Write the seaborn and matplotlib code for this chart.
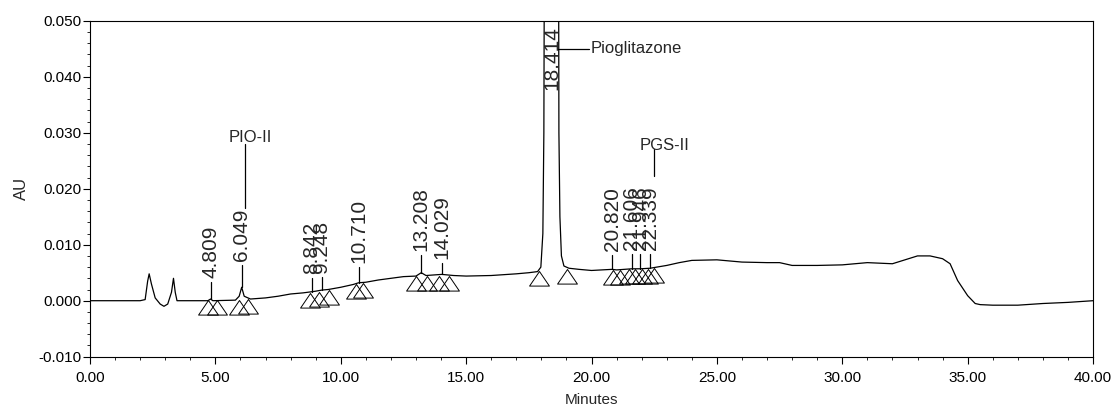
import numpy as np
import matplotlib
matplotlib.use('Agg')
import matplotlib.pyplot as plt
import matplotlib.ticker as mtick
from matplotlib.path import Path
import seaborn as sns

# chromatogram trace (minutes, AU)
trace_t = [0.0, 1.0, 2.0, 2.2, 2.3, 2.36, 2.45, 2.6, 2.8, 2.95, 3.1, 3.25, 3.33, 3.4, 3.47,
           4.0, 4.7, 4.81, 4.9, 5.8, 5.95, 6.05, 6.15, 6.4, 7.0, 7.5, 8.0, 8.5, 8.84, 9.0,
           9.25, 9.5, 10.0, 10.5, 10.71, 11.0, 11.5, 12.0, 12.5, 13.0, 13.21, 13.4, 14.03,
           14.5, 15.0, 16.0, 17.0, 17.5, 17.85, 17.98, 18.06, 18.1, 18.13, 18.68, 18.7,
           18.74, 18.8, 18.9, 19.1, 19.5, 20.0, 20.82, 21.0, 21.61, 21.95, 22.34, 22.6,
           23.0, 23.5, 24.0, 25.0, 26.0, 27.0, 27.5, 28.0, 29.0, 30.0, 31.0, 32.0, 32.5,
           33.0, 33.5, 34.0, 34.3, 34.6, 35.0, 35.3, 35.5, 36.0, 37.0, 38.0, 39.0, 40.0]
trace_au = [0.0, 0.0, 0.0, 0.0002, 0.0035, 0.0048, 0.0030, 0.0005, -0.0006, -0.0010, -0.0006,
            0.0015, 0.0040, 0.0015, 0.0, 0.0, 0.0, 0.0003, 0.0, 0.0001, 0.0008, 0.0024, 0.0008,
            0.0003, 0.0005, 0.0008, 0.0012, 0.0014, 0.0016, 0.0017, 0.0019, 0.0020, 0.0024,
            0.0029, 0.0032, 0.0033, 0.0037, 0.0040, 0.0043, 0.0044, 0.0050, 0.0045, 0.0047,
            0.0045, 0.0044, 0.0045, 0.0048, 0.0050, 0.0052, 0.0060, 0.0120, 0.0300, 0.0800,
            0.0800, 0.0300, 0.0150, 0.0080, 0.0062, 0.0058, 0.0056, 0.0054, 0.0056, 0.0055,
            0.0057, 0.0057, 0.0058, 0.0060, 0.0063, 0.0068, 0.0072, 0.0073, 0.0069, 0.0068,
            0.0068, 0.0063, 0.0063, 0.0064, 0.0068, 0.0066, 0.0073, 0.0080, 0.0080, 0.0075,
            0.0066, 0.0036, 0.0009, -0.0005, -0.0007, -0.0008, -0.0008, -0.0005, -0.0003, 0.0]

# integrated peaks: retention time label, apex height, label base height
peak_labels = ['4.809', '6.049', '8.842', '9.248', '10.710', '13.208', '14.029',
               '18.414', '20.820', '21.606', '21.946', '22.339']
peak_apex = [0.0003, 0.0024, 0.0016, 0.0019, 0.0032, 0.0050, 0.0047,
             None, 0.0056, 0.0057, 0.0057, 0.0058]
label_base = [0.0041, 0.0071, 0.0048, 0.0050, 0.0068, 0.0089, 0.0075,
              0.0377, 0.0089, 0.0091, 0.0091, 0.0091]

# start / end markers of integration (minutes, AU)
tri_t = [4.72, 5.05, 5.95, 6.32, 8.78, 9.12, 9.52, 10.6, 10.9, 13.0, 13.45, 13.9, 14.32,
         17.92, 19.03, 20.85, 21.15, 21.5, 21.75, 22.0, 22.25, 22.5]
tri_au = [0.0002, 0.0002, 0.0002, 0.0003, 0.0014, 0.0016, 0.0020, 0.0030, 0.0032,
          0.0044, 0.0045, 0.0045, 0.0045, 0.0053, 0.0056, 0.0055, 0.0055, 0.0056,
          0.0056, 0.0057, 0.0057, 0.0058]

# named compounds: (name, line x, line from, line to, text x, text y)
names = ['PIO-II', 'PGS-II']
name_x = [6.2, 22.5]
name_from = [0.0166, 0.0222]
name_to = [0.0279, 0.0271]
name_text_x = [6.4, 22.9]
name_text_y = [0.0291, 0.0277]

sns.set_style('ticks')
plt.rcParams['font.family'] = ['Liberation Sans', 'DejaVu Sans']
plt.rcParams['axes.unicode_minus'] = False

fig = plt.figure(figsize=(11.15, 4.07), dpi=100)
ax = fig.add_axes([0.0807, 0.1236, 0.8996, 0.8254])

sns.lineplot(x=trace_t, y=trace_au, ax=ax, color='black', linewidth=0.9, sort=False)

# hollow triangles with their apex on the baseline
tri = Path([(0, 0), (-0.68, -1), (0.68, -1), (0, 0)],
           [Path.MOVETO, Path.LINETO, Path.LINETO, Path.CLOSEPOLY])
ax.plot(tri_t, tri_au, linestyle='none', marker=tri, markersize=21,
        markerfacecolor='none', markeredgecolor='black', markeredgewidth=0.7)

for lbl, apex, base in zip(peak_labels, peak_apex, label_base):
    t = float(lbl)
    if apex is not None:
        ax.plot([t, t], [apex, base - 0.0008], color='black', linewidth=0.9)
    ax.text(t, base, lbl, rotation=90, ha='center', va='bottom', fontsize=15)

for nm, x, y0, y1, tx, ty in zip(names, name_x, name_from, name_to, name_text_x, name_text_y):
    ax.plot([x, x], [y0, y1], color='black', linewidth=0.9)
    ax.text(tx, ty, nm, ha='center', va='center', fontsize=12)

# main compound callout
ax.plot([18.66, 19.9], [0.045, 0.045], color='black', linewidth=0.9)
ax.text(19.95, 0.045, 'Pioglitazone', ha='left', va='center', fontsize=12)

ax.set_xlim(0, 40)
ax.set_ylim(-0.010, 0.050)
ax.xaxis.set_major_locator(mtick.MultipleLocator(5))
ax.xaxis.set_minor_locator(mtick.MultipleLocator(1))
ax.yaxis.set_major_locator(mtick.MultipleLocator(0.010))
ax.yaxis.set_minor_locator(mtick.MultipleLocator(0.002))
ax.xaxis.set_major_formatter(mtick.FormatStrFormatter('%.2f'))
ax.yaxis.set_major_formatter(mtick.FormatStrFormatter('%.3f'))
ax.tick_params(axis='both', which='major', direction='out', length=5, width=0.8,
               labelsize=11, color='black', labelcolor='black')
ax.tick_params(axis='x', which='major', pad=5)
ax.tick_params(axis='y', which='major', pad=1)
ax.tick_params(axis='both', which='minor', direction='out', length=2.5, width=0.7)
for s in ax.spines.values():
    s.set_visible(True)
    s.set_linewidth(0.8)
    s.set_color('black')

ax.set_xlabel('Minutes', fontsize=11, labelpad=6)
ax.set_ylabel('AU', fontsize=12, labelpad=7)

plt.savefig('out.png', dpi=100)
